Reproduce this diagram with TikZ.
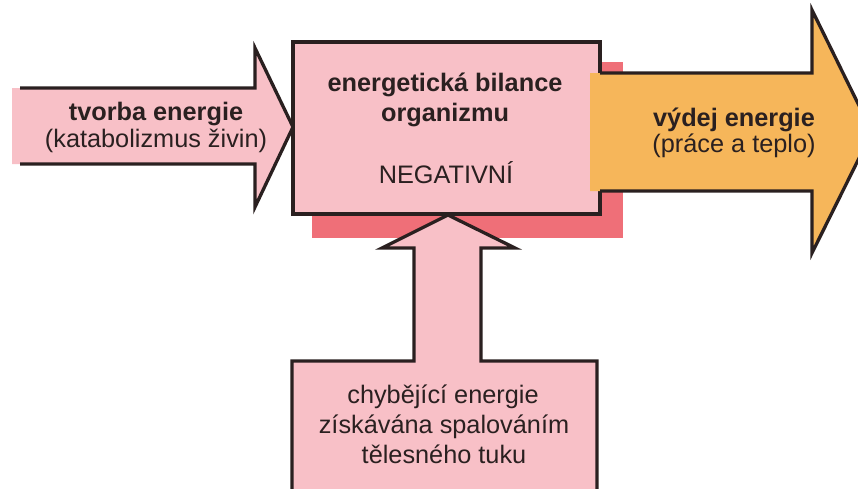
\documentclass[tikz,border=0pt]{standalone}
\usepackage{fontspec}
\setmainfont{Liberation Sans}
\definecolor{pinkf}{HTML}{F8C0C7}
\definecolor{shadowc}{HTML}{EF6F78}
\definecolor{orangef}{HTML}{F6B65A}
\definecolor{ink}{HTML}{2A2020}
\begin{document}
\begin{tikzpicture}[x=1pt,y=-1pt,line width=3.3pt,line join=miter,
  outline/.style={draw=ink},
  balbox/.style={draw=ink,fill=pinkf,minimum width=307,minimum height=172,inner sep=0},
  txt/.style={text=ink,font=\fontsize{25.3}{29}\selectfont,inner sep=0,anchor=base},
  btxt/.style={txt,font=\fontsize{25.3}{29}\selectfont\bfseries}]
\useasboundingbox (0,0) rectangle (858,488);
% shadow of the balance box
\fill[shadowc] (312,62) rectangle (623,238);
% left arrow
\fill[pinkf] (12,88) -- (255,88) -- (255,48) -- (293,127) -- (255,207) -- (255,164) -- (12,164) -- cycle;
\draw[outline] (20,88) -- (255,88) -- (255,48) -- (293,127) -- (255,207) -- (255,164) -- (20,164);
% balance box
\node[balbox] (bal) at (446.5,128) {};
% bottom arrow
\fill[pinkf] (292,500) -- (292,361) -- (414,361) -- (414,248) -- (382,248) -- (448,215) -- (515,248) -- (481,248) -- (481,361) -- (597,361) -- (597,500) -- cycle;
\draw[outline] (292,500) -- (292,361) -- (414,361) -- (414,248) -- (382,248) -- (448,215) -- (515,248) -- (481,248) -- (481,361) -- (597,361) -- (597,500);
% right arrow
\fill[orangef] (590,73) -- (812,73) -- (812,10) -- (872,132) -- (812,253) -- (812,191) -- (590,191) -- cycle;
\draw[outline] (600,73) -- (812,73) -- (812,10) -- (872,132) -- (812,253) -- (812,191) -- (600,191);
% texts
\node[btxt] (t1) at (156,120) {tvorba energie};
\node[txt] (t2) at (156,147) {(katabolizmus živin)};
\node[btxt] (b1) at (445,91) {energetická bilance};
\node[btxt] (b2) at (445,121) {organizmu};
\node[txt] (b3) at (446,183) {NEGATIVNÍ};
\node[btxt] (v1) at (734,126) {výdej energie};
\node[txt] (v2) at (734,152) {(práce a teplo)};
\node[txt] (c1) at (443,403) {chybějící energie};
\node[txt] (c2) at (444,433) {získávána spalováním};
\node[txt] (c3) at (444,463) {tělesného tuku};
\end{tikzpicture}
\end{document}
